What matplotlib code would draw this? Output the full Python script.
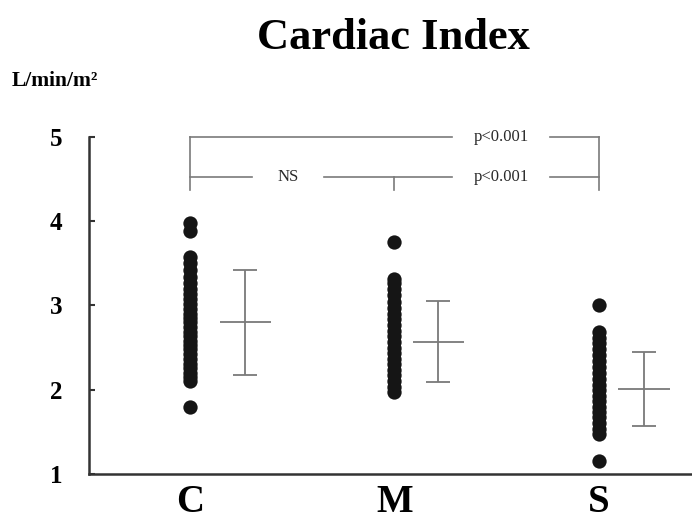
import matplotlib
matplotlib.use('Agg')
import matplotlib.pyplot as plt

# values
groups = ['C', 'M', 'S']
c_vals = [1.8, 2.1, 2.15, 2.2, 2.26, 2.31, 2.37, 2.42, 2.48, 2.53, 2.58, 2.64,
          2.69, 2.74, 2.8, 2.85, 2.9, 2.96, 3.02, 3.08, 3.14, 3.2, 3.27, 3.34,
          3.42, 3.5, 3.58, 3.88, 3.98]
m_vals = [1.97, 2.03, 2.1, 2.17, 2.24, 2.3, 2.37, 2.44, 2.5, 2.57, 2.64, 2.7,
          2.77, 2.84, 2.9, 2.97, 3.04, 3.12, 3.2, 3.27, 3.32, 3.75]
s_vals = [1.15, 1.48, 1.54, 1.61, 1.68, 1.74, 1.8, 1.87, 1.93, 2.0, 2.06, 2.13,
          2.2, 2.27, 2.34, 2.41, 2.48, 2.55, 2.62, 2.68, 3.0]
means = [2.80, 2.57, 2.01]
sds = [0.62, 0.48, 0.44]
sig_labels = ['NS', 'p<0.001', 'p<0.001']

plt.rcParams['font.family'] = ['Liberation Serif', 'DejaVu Serif']

fig = plt.figure(figsize=(6.92, 5.25), dpi=100)
ax = fig.add_axes([0.1286, 0.0971, 0.8714, 0.642])

xpos = [0, 1, 2]
bar_off = [0.27, 0.215, 0.22]
grey = '#7a7a7a'

for x, vals in zip(xpos, [c_vals, m_vals, s_vals]):
    ax.plot([x] * len(vals), vals, 'o', color='#151515', markersize=10.3,
            markeredgewidth=0)

for x, off, mu, sd in zip(xpos, bar_off, means, sds):
    bx = x + off
    ax.errorbar(bx, mu, yerr=sd, fmt='none', ecolor=grey, elinewidth=1.3,
                capsize=8.6, capthick=1.3)
    ax.hlines(mu, bx - 0.125, bx + 0.125, color=grey, lw=1.3)

# significance brackets
top, low, foot = 5.0, 4.53, 4.37
p_x, p_half = 1.52, 0.24
ns_x, ns_half = 0.48, 0.176
kw = dict(color=grey, lw=1.2, clip_on=False)
ax.plot([xpos[0], xpos[0]], [foot, top], **kw)
ax.plot([xpos[2], xpos[2]], [foot, top], **kw)
ax.plot([xpos[1], xpos[1]], [foot, low], **kw)
ax.plot([xpos[0], p_x - p_half], [top, top], **kw)
ax.plot([p_x + p_half, xpos[2]], [top, top], **kw)
ax.plot([xpos[0], ns_x - ns_half], [low, low], **kw)
ax.plot([ns_x + ns_half, p_x - p_half], [low, low], **kw)
ax.plot([p_x + p_half, xpos[2]], [low, low], **kw)
tkw = dict(ha='center', va='center', fontsize=12, color='#2a2a2a')
ax.text(ns_x, low, sig_labels[0], **tkw)
ax.text(p_x, low, sig_labels[1], **tkw)
ax.text(p_x, top, sig_labels[2], **tkw)

ax.set_xlim(-0.494, 2.455)
ax.set_ylim(1, 5)
ax.set_yticks([1, 2, 3, 4, 5])
ax.set_xticks(xpos)
ax.set_xticklabels(groups, fontsize=28, fontweight='bold')
for lab in ax.get_yticklabels():
    lab.set_fontweight('bold')
ax.tick_params(axis='y', direction='in', length=4, width=1.5, color='#333333',
               labelsize=18, pad=19)
ax.tick_params(axis='x', length=0, pad=7)
ax.spines['top'].set_visible(False)
ax.spines['right'].set_visible(False)
for sp in ['left', 'bottom']:
    ax.spines[sp].set_linewidth(1.8)
    ax.spines[sp].set_color('#333333')

fig.text(0.568, 0.928, 'Cardiac Index', ha='center', va='center',
         fontsize=32, fontweight='bold')
fig.text(0.017, 0.846, 'L/min/m²', ha='left', va='center', fontsize=15.5,
         fontweight='bold')

fig.savefig('out.png', dpi=100)
